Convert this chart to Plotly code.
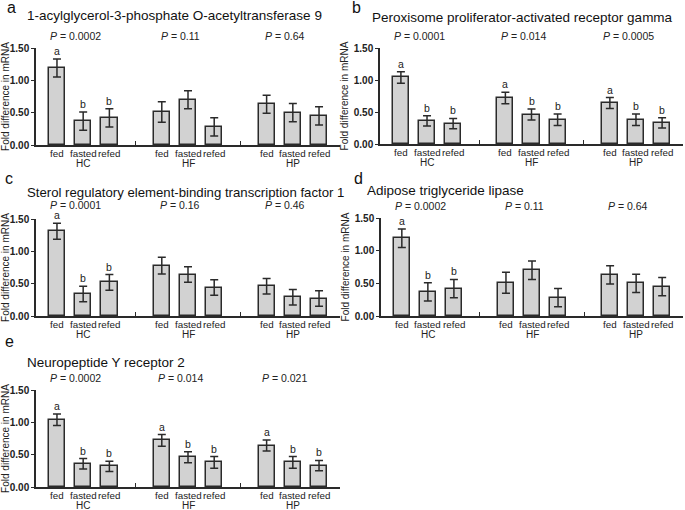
import plotly.graph_objects as go

W, H = 685, 510

positions = [0, 1, 2, 4, 5, 6, 8, 9, 10]
conditions = ["fed", "fasted", "refed"] * 3
groups = ["HC", "HF", "HP"]
group_centers = [1, 5, 9]
y_tickvals = [0, 0.5, 1.0, 1.5]
y_ticktext = ["0.00", "0.50", "1.00", "1.50"]

# panel a
title_a = "1-acylglycerol-3-phosphate O-acetyltransferase 9"
p_a = ["0.0002", "0.11", "0.64"]
mean_a = [1.19, 0.37, 0.42, 0.51, 0.70, 0.28, 0.63, 0.50, 0.45]
err_a = [0.14, 0.14, 0.14, 0.16, 0.14, 0.14, 0.14, 0.14, 0.14]
sig_a = ["a", "b", "b", "", "", "", "", "", ""]

# panel b
title_b = "Peroxisome proliferator-activated receptor gamma"
p_b = ["0.0001", "0.014", "0.0005"]
mean_b = [1.04, 0.36, 0.32, 0.72, 0.46, 0.38, 0.64, 0.38, 0.33]
err_b = [0.09, 0.08, 0.08, 0.09, 0.085, 0.09, 0.085, 0.09, 0.08]
sig_b = ["a", "b", "b", "a", "b", "b", "a", "b", "b"]

# panel c
title_c = "Sterol regulatory element-binding transcription factor 1"
p_c = ["0.0001", "0.16", "0.46"]
mean_c = [1.31, 0.34, 0.52, 0.78, 0.64, 0.44, 0.46, 0.29, 0.27]
err_c = [0.125, 0.12, 0.12, 0.13, 0.12, 0.12, 0.12, 0.12, 0.12]
sig_c = ["a", "b", "b", "", "", "", "", "", ""]

# panel d
title_d = "Adipose triglyceride lipase"
p_d = ["0.0002", "0.11", "0.64"]
mean_d = [1.19, 0.37, 0.42, 0.51, 0.70, 0.28, 0.63, 0.50, 0.45]
err_d = [0.14, 0.14, 0.14, 0.16, 0.14, 0.14, 0.14, 0.14, 0.14]
sig_d = ["a", "b", "b", "", "", "", "", "", ""]

# panel e
title_e = "Neuropeptide Y receptor 2"
p_e = ["0.0002", "0.014", "0.021"]
mean_e = [1.04, 0.36, 0.32, 0.72, 0.46, 0.38, 0.64, 0.38, 0.33]
err_e = [0.09, 0.08, 0.08, 0.09, 0.085, 0.09, 0.085, 0.09, 0.08]
sig_e = ["a", "b", "b", "a", "b", "b", "a", "b", "b"]

panels = [
    dict(letter="a", title=title_a, p=p_a, mean=mean_a, err=err_a, sig=sig_a,
         px=(36, 340), py=(48, 145), title_xy=(25, 15), letter_xy=(5, 8), tsize=13.5, pshift=12),
    dict(letter="b", title=title_b, p=p_b, mean=mean_b, err=err_b, sig=sig_b,
         px=(380, 683), py=(48, 144), title_xy=(370, 18), letter_xy=(350, 8), tsize=13.5, pshift=12),
    dict(letter="c", title=title_c, p=p_c, mean=mean_c, err=err_c, sig=sig_c,
         px=(36, 340), py=(219, 316), title_xy=(25, 192), letter_xy=(3, 178), tsize=13.2, pshift=14),
    dict(letter="d", title=title_d, p=p_d, mean=mean_d, err=err_d, sig=sig_d,
         px=(381, 683), py=(218, 316), title_xy=(365, 190), letter_xy=(352, 178), tsize=13.5, pshift=12),
    dict(letter="e", title=title_e, p=p_e, mean=mean_e, err=err_e, sig=sig_e,
         px=(36, 340), py=(390, 487), title_xy=(25, 362), letter_xy=(3, 341), tsize=13.5, pshift=12),
]

FONT = "Liberation Sans, Arial, sans-serif"
TXT = "#222222"
fig = go.Figure()
annotations = []
layout = {}

for i, pn in enumerate(panels):
    n = "" if i == 0 else str(i + 1)
    xa, ya = "x" + n, "y" + n
    fig.add_trace(go.Bar(
        x=positions, y=pn["mean"], xaxis=xa, yaxis=ya, width=0.62,
        marker=dict(color="#d2d2d2", line=dict(color="#2a2a2a", width=1.5)),
        error_y=dict(type="data", array=pn["err"], visible=True,
                     color="#2a2a2a", thickness=1.5, width=4),
        showlegend=False, hoverinfo="skip"))
    layout["xaxis" + n] = dict(
        domain=[pn["px"][0] / W, pn["px"][1] / W], anchor=ya,
        range=[-0.8, 10.8], showgrid=False, zeroline=False,
        showline=True, linecolor="#2a2a2a", linewidth=1.5,
        tickvals=[3, 7], ticks="inside", ticklen=4, tickwidth=1.2,
        tickcolor="#2a2a2a", showticklabels=False, fixedrange=True,
        automargin=False)
    layout["yaxis" + n] = dict(
        domain=[1 - pn["py"][1] / H, 1 - pn["py"][0] / H], anchor=xa,
        range=[0, 1.5], showgrid=False, zeroline=False,
        showline=True, linecolor="#2a2a2a", linewidth=1.5,
        tickvals=y_tickvals, ticktext=y_ticktext, ticks="outside",
        ticklen=3, tickwidth=1.2, tickcolor="#2a2a2a",
        tickfont=dict(family=FONT, size=10, color=TXT, weight="bold"),
        title=dict(text="Fold difference in mRNA", standoff=3,
                   font=dict(family=FONT, size=10, color=TXT)),
        fixedrange=True, automargin=False)
    # panel letter and title
    annotations.append(dict(
        text=pn["letter"], xref="paper", yref="paper",
        x=pn["letter_xy"][0] / W, y=1 - pn["letter_xy"][1] / H,
        xanchor="left", yanchor="middle", showarrow=False,
        font=dict(family=FONT, size=16, color="#111111")))
    annotations.append(dict(
        text=pn["title"], xref="paper", yref="paper",
        x=pn["title_xy"][0] / W, y=1 - pn["title_xy"][1] / H,
        xanchor="left", yanchor="middle", showarrow=False,
        font=dict(family=FONT, size=pn["tsize"], color="#111111")))
    # P values, group labels
    for g, gc in enumerate(group_centers):
        annotations.append(dict(
            text="<i>P</i> = " + pn["p"][g], xref=xa, yref=ya,
            x=gc - 0.3, y=1.5, yshift=pn["pshift"], xanchor="center",
            yanchor="middle", showarrow=False,
            font=dict(family=FONT, size=10.5, color=TXT)))
        annotations.append(dict(
            text=groups[g], xref=xa, yref=ya, x=gc, y=0, yshift=-18,
            xanchor="center", yanchor="middle", showarrow=False,
            font=dict(family=FONT, size=10, color=TXT)))
    for k, xp in enumerate(positions):
        annotations.append(dict(
            text=conditions[k], xref=xa, yref=ya, x=xp, y=0, yshift=-8,
            xanchor="center", yanchor="middle", showarrow=False,
            font=dict(family=FONT, size=9.8, color=TXT)))
        if pn["sig"][k]:
            annotations.append(dict(
                text=pn["sig"][k], xref=xa, yref=ya, x=xp,
                y=pn["mean"][k] + pn["err"][k], yshift=0,
                xanchor="center", yanchor="bottom", showarrow=False,
                font=dict(family=FONT, size=10.5, color=TXT)))

fig.update_layout(
    width=W, height=H, margin=dict(l=0, r=0, t=0, b=0),
    paper_bgcolor="white", plot_bgcolor="white",
    annotations=annotations, bargap=0, **layout)

fig.write_html("out.html",
               config={"displayModeBar": False},
               post_script="document.body.style.margin='0px';"
                           "document.body.style.overflow='hidden';")
